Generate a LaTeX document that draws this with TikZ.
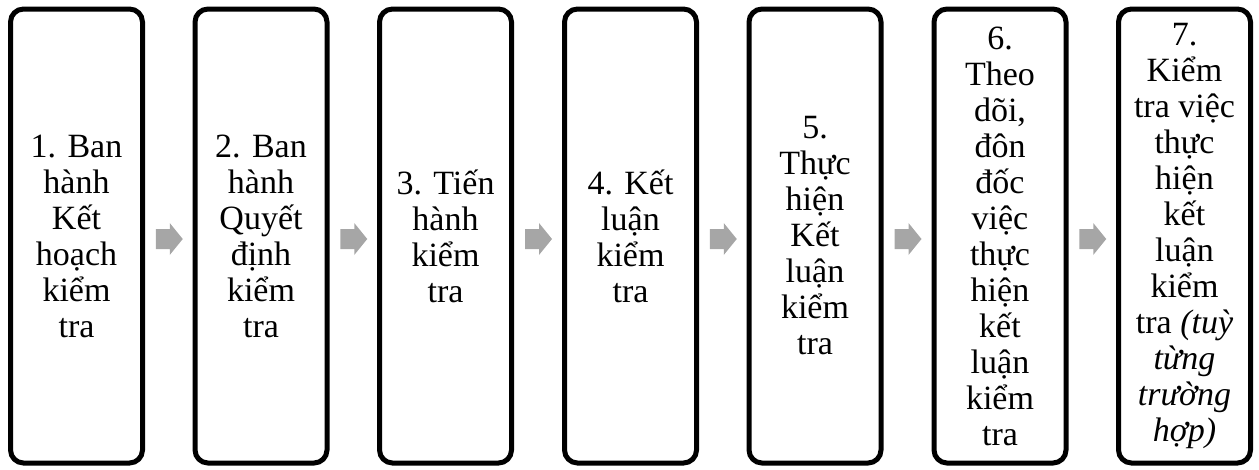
\documentclass[tikz,border=0pt]{standalone}
\usepackage{fontspec}
\setmainfont{Liberation Serif}
\usetikzlibrary{calc}
\definecolor{arrowgray}{HTML}{A6A6A6}
\tikzset{
  stepbox/.style={draw=black, line width=5pt, rounded corners=13pt, minimum width=132pt, minimum height=454pt, inner sep=0pt, align=center, font=\fontsize{34}{36}\selectfont},
  flowarrow/.style={fill=arrowgray, draw=none}
}
\begin{document}
\begin{tikzpicture}[x=1pt,y=1pt]
\useasboundingbox (0,0) rectangle (1259,-469);
\node[stepbox] (b1) at (76.5,-236) {1. Ban\\hành\\Kết\\hoạch\\kiểm\\tra};
\node[stepbox] (b2) at (261,-236) {2. Ban\\hành\\Quyết\\định\\kiểm\\tra};
\node[stepbox] (b3) at (445.5,-236) {3. Tiến\\hành\\kiểm\\tra};
\node[stepbox] (b4) at (630.5,-236) {4. Kết\\luận\\kiểm\\tra};
\node[stepbox] (b5) at (815,-236) {5.\\Thực\\hiện\\Kết\\luận\\kiểm\\tra};
\node[stepbox] (b6) at (1000,-236) {6.\\Theo\\dõi,\\đôn\\đốc\\việc\\thực\\hiện\\kết\\luận\\kiểm\\tra};
\node[stepbox] (b7) at (1184.5,-236) {7.\\Kiểm\\tra việc\\thực\\hiện\\kết\\luận\\kiểm\\tra \textit{(tuỳ}\\\textit{từng}\\\textit{trường}\\\textit{hợp)}};
\foreach \i/\j in {1/2,2/3,3/4,4/5,5/6,6/7}{
  \coordinate (a\i) at ($(b\i.east)!0.5!(b\j.west)+(0,-3)$);
  \fill[flowarrow] ($(a\i)+(-13,10)$) -- ($(a\i)+(1,10)$) -- ($(a\i)+(1,16)$) -- ($(a\i)+(14,0)$)
     -- ($(a\i)+(1,-16)$) -- ($(a\i)+(1,-10)$) -- ($(a\i)+(-13,-10)$) -- cycle;
}
\end{tikzpicture}
\end{document}
